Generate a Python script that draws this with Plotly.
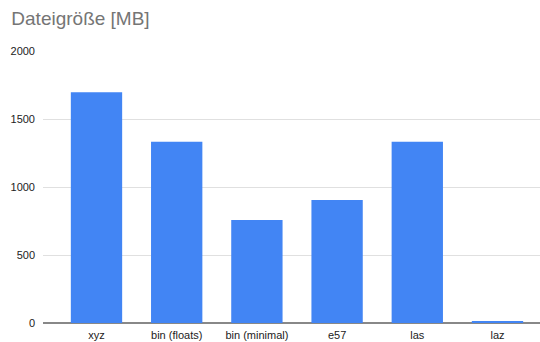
import plotly.graph_objects as go

categories = ["xyz", "bin (floats)", "bin (minimal)", "e57", "las", "laz"]
sizes_mb = [1697, 1332, 758, 905, 1332, 10]
y_ticks = [0, 500, 1000, 1500, 2000]
title_text = "Dateigröße [MB]"

FONT = "Liberation Sans, Arial, sans-serif"

fig = go.Figure(go.Bar(x=categories, y=sizes_mb, marker=dict(color="#4285F4", line=dict(width=0))))

fig.update_layout(
    width=540, height=342,
    margin=dict(l=43, r=0, t=51, b=19, autoexpand=False),
    paper_bgcolor="white", plot_bgcolor="white",
    font=dict(family=FONT, size=11, color="#222222"),
    title=dict(text=title_text, x=0.021, xanchor="left", y=0.945, yanchor="middle",
               font=dict(family=FONT, size=19, color="#757575")),
    bargap=0.36,
    showlegend=False,
)
fig.update_xaxes(range=[-0.667, 5.53], showgrid=False, showline=False, ticks="",
                 tickfont=dict(size=11, color="#222222"), automargin=False, ticklabelstandoff=4)
fig.update_yaxes(range=[0, 2000], tickvals=y_ticks, showgrid=True, gridcolor="#e0e0e0", gridwidth=1,
                 zeroline=True, zerolinecolor="#888888", zerolinewidth=1.5, showline=False, ticks="",
                 tickfont=dict(size=11, color="#222222"), automargin=False, ticklabelstandoff=7)

fig.write_html("out.html")
